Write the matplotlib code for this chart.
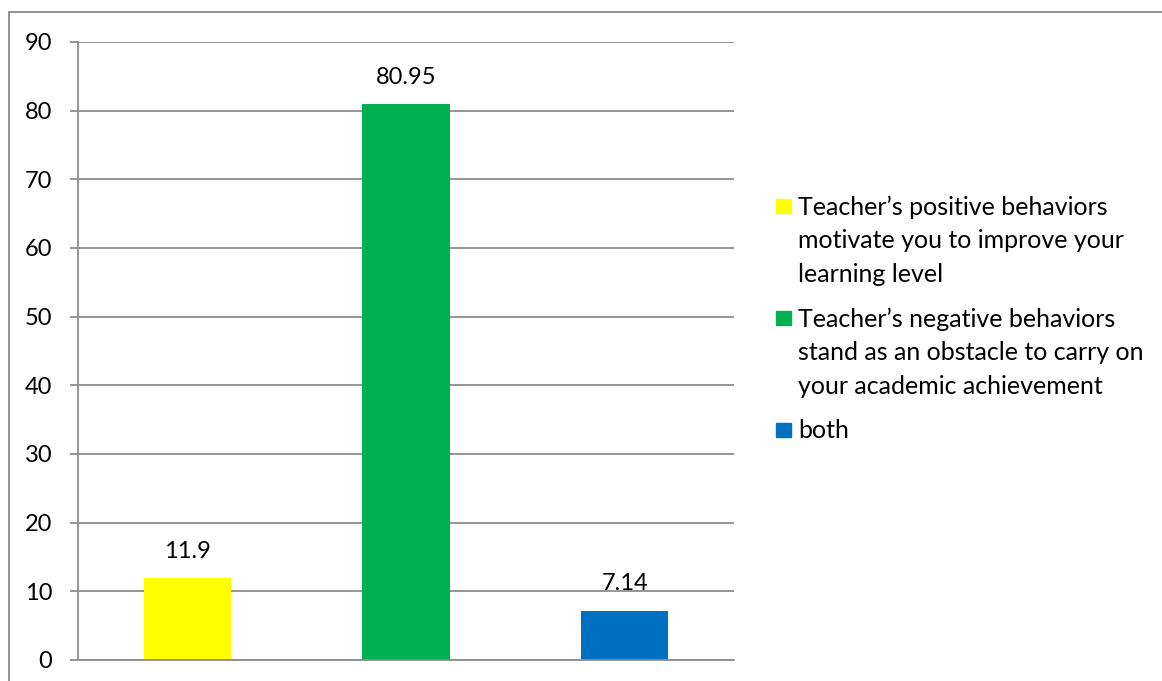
import matplotlib.pyplot as plt
from matplotlib.patches import Rectangle

# data
labels = ["Teacher\u2019s positive behaviors\nmotivate you to improve your\nlearning level",
          "Teacher\u2019s negative behaviors\nstand as an obstacle to carry on\nyour academic achievement",
          "both"]
values = [11.9, 80.95, 7.14]
value_text = ["11.9", "80.95", "7.14"]
colors = ["#ffff00", "#00b050", "#0070c0"]
yticks = [0, 10, 20, 30, 40, 50, 60, 70, 80, 90]

plt.rcParams['font.family'] = ['Lato', 'DejaVu Sans']
W, H = 1162, 681
fig = plt.figure(figsize=(W / 100, H / 100), dpi=100)
ax = fig.add_axes([78 / W, 1 - 660 / H, (734 - 78) / W, (660 - 42) / H])

grid_col = "#8c8c8c"
xs = list(range(len(values)))
ax.bar(xs, values, width=0.4, color=colors, zorder=2)
for x, v, t in zip(xs, values, value_text):
    ax.annotate(t, (x, v), xytext=(0, 27), textcoords="offset pixels",
                ha="center", va="center", fontsize=17, zorder=3)

ax.set_xlim(-0.5, 2.5)
ax.set_ylim(0, 90)
ax.set_yticks(yticks)
ax.set_xticks([])
ax.yaxis.grid(True, color=grid_col, linewidth=1.3, zorder=1)
ax.tick_params(axis='y', length=6, width=1.3, color=grid_col, pad=12.5, labelsize=17)
for s in ["top", "right"]:
    ax.spines[s].set_visible(False)
for s in ["left", "bottom"]:
    ax.spines[s].set_color(grid_col)
    ax.spines[s].set_linewidth(1.3)

# legend drawn the way the spreadsheet places it (handle at first line)
y0 = 206
line_h = 34
for i, (lab, c) in enumerate(zip(labels, colors)):
    yc = y0 + i * 112
    fig.add_artist(Rectangle((776 / W, 1 - (yc + 7) / H), 15 / W, 14 / H,
                             transform=fig.transFigure, color=c))
    last_base = yc + 8 + lab.count("\n") * line_h
    fig.text(798 / W, 1 - last_base / H, lab, ha="left", va="baseline",
             fontsize=18, linespacing=1.56)

# outer chart border
fig.add_artist(Rectangle((9 / W, -0.01), 1.02, 1 - 12 / H + 0.01,
                         transform=fig.transFigure, fill=False,
                         edgecolor=grid_col, linewidth=1.3))

fig.savefig("out.png", dpi=100)
